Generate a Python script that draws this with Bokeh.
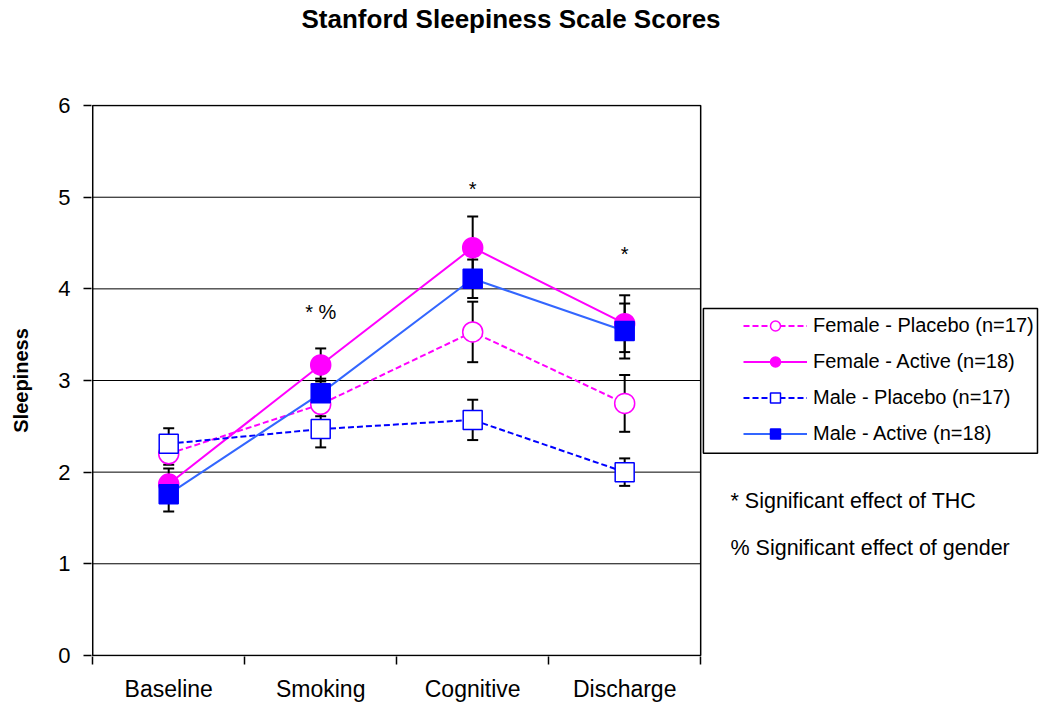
from bokeh.plotting import figure
from bokeh.models import (Range1d, FixedTicker, ColumnDataSource, Whisker, TeeHead,
                          Legend, LegendItem, Title)
from bokeh.core.properties import value
from bokeh.embed import file_html
from bokeh.resources import INLINE

# ---------------- data ----------------
title_text = "Stanford Sleepiness Scale Scores"
categories = ["Baseline", "Smoking", "Cognitive", "Discharge"]
y_ticks = [0, 1, 2, 3, 4, 5, 6]
y_label = "Sleepiness"

female_placebo = [2.20, 2.74, 3.53, 2.75]
female_placebo_err = [0.12, 0.13, 0.33, 0.31]
female_active = [1.87, 3.17, 4.45, 3.62]
female_active_err = [0.17, 0.18, 0.34, 0.31]
male_placebo = [2.31, 2.47, 2.57, 2.00]
male_placebo_err = [0.17, 0.20, 0.22, 0.15]
male_active = [1.76, 2.86, 4.11, 3.54]
male_active_err = [0.19, 0.16, 0.21, 0.30]

legend_labels = ["Female - Placebo (n=17)", "Female - Active (n=18)",
                 "Male - Placebo (n=17)", "Male - Active (n=18)"]

sig_categories = ["Smoking", "Cognitive", "Discharge"]
sig_labels = ["* %", "*", "*"]
sig_y = [3.75, 5.09, 4.38]

footnotes = ["* Significant effect of THC", "% Significant effect of gender"]
footnote_y = [1.68, 1.168]

FONT = "Liberation Sans"

cat_x = [i + 0.5 for i in range(len(categories))]
cat_pos = dict(zip(categories, cat_x))

p = figure(width=1042, height=706, title=None,
           x_range=Range1d(-0.008, 6.249), y_range=Range1d(-0.012, 6.012),
           output_backend="svg", toolbar_location=None,
           min_border_left=91, min_border_right=0, min_border_top=104, min_border_bottom=50)
p.outline_line_color = None
p.xgrid.visible = False
p.ygrid.visible = False
p.background_fill_color = "white"
p.border_fill_color = "white"

# spacer between frame and title, then the title itself (outermost)
p.add_layout(Title(text=" ", text_font_size="1px", standoff=68), "above")
p.add_layout(Title(text=title_text, align="left", offset=210, standoff=0,
                   text_font=FONT, text_font_size="26px", text_font_style="bold",
                   text_color="black"), "above")

# x axis
xa = p.xaxis[0]
xa.ticker = FixedTicker(ticks=cat_x, minor_ticks=list(range(len(categories) + 1)))
xa.major_label_overrides = {x: c for x, c in zip(cat_x, categories)}
xa.major_tick_line_color = None
xa.major_tick_out = 0
xa.major_tick_in = 0
xa.minor_tick_line_color = "black"
xa.minor_tick_out = 8
xa.minor_tick_in = 0
xa.minor_tick_line_width = 1.5
xa.axis_line_color = None
xa.major_label_text_font = FONT
xa.major_label_text_font_size = "23px"
xa.major_label_text_color = "black"
xa.major_label_standoff = 11

# y axis
ya = p.yaxis[0]
ya.ticker = FixedTicker(ticks=y_ticks)
ya.major_tick_out = 8
ya.major_tick_in = 0
ya.major_tick_line_color = "black"
ya.major_tick_line_width = 1.5
ya.minor_tick_line_color = None
ya.axis_line_color = None
ya.major_label_text_font = FONT
ya.major_label_text_font_size = "22px"
ya.major_label_text_color = "black"
ya.major_label_standoff = 13
ya.axis_label = y_label
ya.axis_label_text_font = FONT
ya.axis_label_text_font_size = "20px"
ya.axis_label_text_font_style = "bold"
ya.axis_label_text_color = "black"
ya.axis_label_standoff = 23

n = len(categories)
# gridlines and plot box
p.segment(x0=0, x1=n, y0=y_ticks[1:-1], y1=y_ticks[1:-1], line_color="black", line_width=1)
p.quad(left=0, right=n, bottom=y_ticks[0], top=y_ticks[-1], fill_color=None,
       line_color="black", line_width=1.5)

series = [
    (female_placebo, female_placebo_err, "#FF00FF", "#FF00FF", "6 3", "circle", "white", 20),
    (female_active, female_active_err, "#FF00FF", "#FF00FF", "solid", "circle", "#FF00FF", 20),
    (male_placebo, male_placebo_err, "#0000FF", "#0000FF", "6 3", "square", "white", 19),
    (male_active, male_active_err, "#3366FF", "#0000FF", "solid", "square", "#0000FF", 19),
]

# error bars
for vals, errs, *_ in series:
    src = ColumnDataSource(dict(x=cat_x,
                                upper=[v + e for v, e in zip(vals, errs)],
                                lower=[v - e for v, e in zip(vals, errs)]))
    w = Whisker(source=src, base="x", upper="upper", lower="lower", dimension="height",
                line_color="black", line_width=2, level="underlay",
                upper_head=TeeHead(size=11, line_color="black", line_width=2),
                lower_head=TeeHead(size=11, line_color="black", line_width=2))
    p.add_layout(w)

items = []
for (vals, errs, lcol, mcol, dash, marker, fill, size), lab in zip(series, legend_labels):
    src = ColumnDataSource(dict(x=cat_x, y=vals))
    lr = p.line("x", "y", source=src, line_color=lcol, line_width=2, line_dash=dash)
    sr = p.scatter("x", "y", source=src, marker=marker, size=size, fill_color=fill,
                   line_color=mcol, line_width=1.5)
    items.append(LegendItem(label=lab, renderers=[lr, sr]))

legend = Legend(items=items, location=(652, 210.5), padding=0, spacing=11, margin=0,
                glyph_width=64, glyph_height=25, label_height=25, label_standoff=6,
                label_text_font=FONT, label_text_font_size="20px", label_text_color="black",
                border_line_alpha=0, background_fill_alpha=0)
p.add_layout(legend)

# legend frame
p.quad(left=[4.018], right=[6.216], bottom=[2.205], top=[3.787], fill_color=None,
       line_color="black", line_width=1.5)

# significance markers
p.text(x=[cat_pos[c] for c in sig_categories], y=sig_y, text=sig_labels,
       text_font=value(FONT), text_font_size="20px", text_align="center",
       text_baseline="middle", text_color="black")

# footnotes
p.text(x=[4.196] * len(footnotes), y=footnote_y, text=footnotes,
       text_font=value(FONT), text_font_size="21.5px", text_align="left",
       text_baseline="middle", text_color="black")

open("out.html", "w").write(file_html(p, INLINE))
